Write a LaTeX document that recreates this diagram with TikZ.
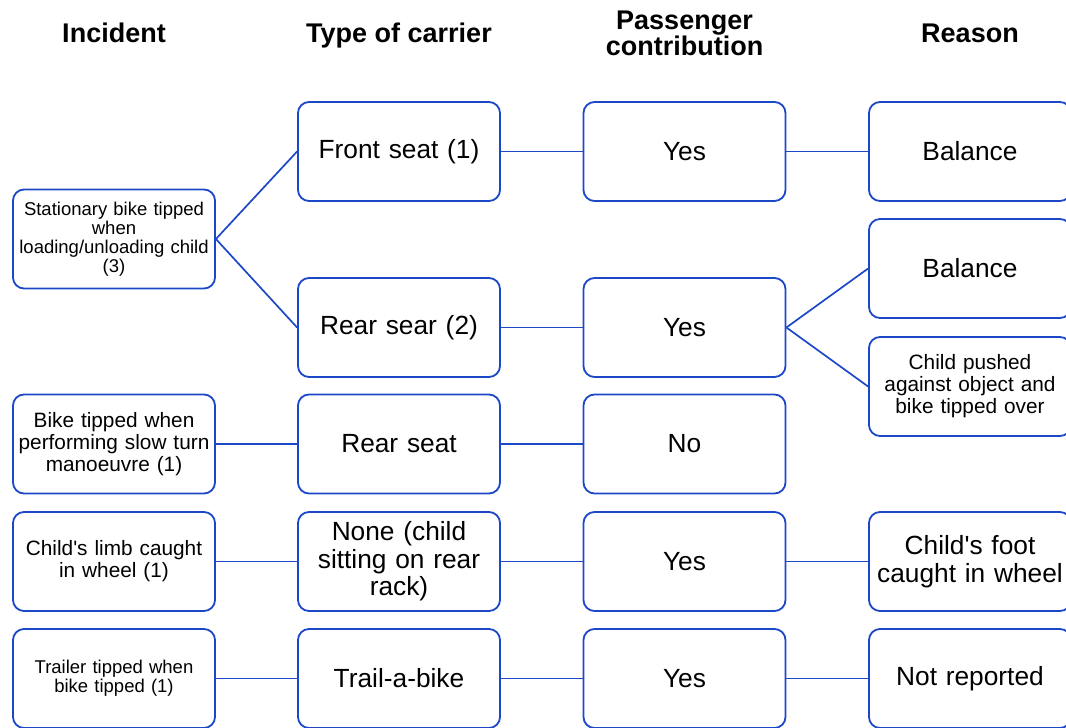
\documentclass[tikz,border=0pt]{standalone}
\usepackage{fontspec}
\setmainfont{Liberation Sans}[Ligatures=TeXOff]
\definecolor{boxblue}{RGB}{28,72,200}
\begin{document}
\begin{tikzpicture}[x=1pt,y=-1pt,
  box/.style={draw=boxblue,line width=1.8pt,rounded corners=11pt,rectangle,
    minimum width=202pt,minimum height=99pt,align=center,inner sep=2pt,
    text width=198pt,font=\fontsize{26.3}{27.5}\selectfont},
  smallbox/.style={box,font=\fontsize{18.5}{19}\selectfont},
  midbox/.style={box,font=\fontsize{20.8}{22}\selectfont},
  hdr/.style={font=\bfseries\fontsize{27}{26}\selectfont,align=center},
  link/.style={draw=boxblue,line width=1.7pt}]
\useasboundingbox (0,0) rectangle (1066,728);
\clip (0,0) rectangle (1066,728);
% headers
\node[hdr,anchor=base] (h1) at (114,42) {Incident};
\node[hdr,anchor=base] (h2) at (399,42) {Type of carrier};
\node[hdr] (h3) at (684.5,33) {Passenger\\contribution};
\node[hdr,anchor=base] (h4) at (970,42) {Reason};
% column 1
\node[smallbox] (stat) at (114,239) {Stationary bike tipped\\when\\loading/unloading child\\(3)};
\node[midbox] (slow) at (114,444) {Bike tipped when\\performing slow turn\\manoeuvre (1)};
\node[midbox] (limb) at (114,561.5) {Child's limb caught\\in wheel (1)};
\node[smallbox] (trailer) at (114,678.5) {Trailer tipped when\\bike tipped (1)};
% column 2
\node[box] (front) at (399,151.5) {Front seat (1)};
\node[box] (rearsear) at (399,327.5) {Rear sear (2)};
\node[box] (rearseat) at (399,444) {Rear seat};
\node[box] (none) at (399,561.5) {None (child\\sitting on rear\\rack)};
\node[box] (trail) at (399,678.5) {Trail-a-bike};
% column 3
\node[box] (yes1) at (684.5,151.5) {Yes};
\node[box] (yes2) at (684.5,327.5) {Yes};
\node[box] (no) at (684.5,444) {No};
\node[box] (yes4) at (684.5,561.5) {Yes};
\node[box] (yes5) at (684.5,678.5) {Yes};
% column 4
\node[box] (bal1) at (970,151.5) {Balance};
\node[box] (bal2) at (970,268.5) {Balance};
\node[midbox] (push) at (970,386.5) {Child pushed\\against object and\\bike tipped over};
\node[box] (foot) at (970,561.5) {Child's foot\\caught in wheel};
\node[box] (notrep) at (970,678.5) {Not reported};
% connectors
\draw[link] (stat.east) -- (front.west);
\draw[link] (stat.east) -- (rearsear.west);
\draw[link] (front.east) -- (yes1.west);
\draw[link] (yes1.east) -- (bal1.west);
\draw[link] (rearsear.east) -- (yes2.west);
\draw[link] (yes2.east) -- (bal2.west);
\draw[link] (yes2.east) -- (push.west);
\draw[link] (slow.east) -- (rearseat.west);
\draw[link] (rearseat.east) -- (no.west);
\draw[link] (limb.east) -- (none.west);
\draw[link] (none.east) -- (yes4.west);
\draw[link] (yes4.east) -- (foot.west);
\draw[link] (trailer.east) -- (trail.west);
\draw[link] (trail.east) -- (yes5.west);
\draw[link] (yes5.east) -- (notrep.west);
\end{tikzpicture}
\end{document}
